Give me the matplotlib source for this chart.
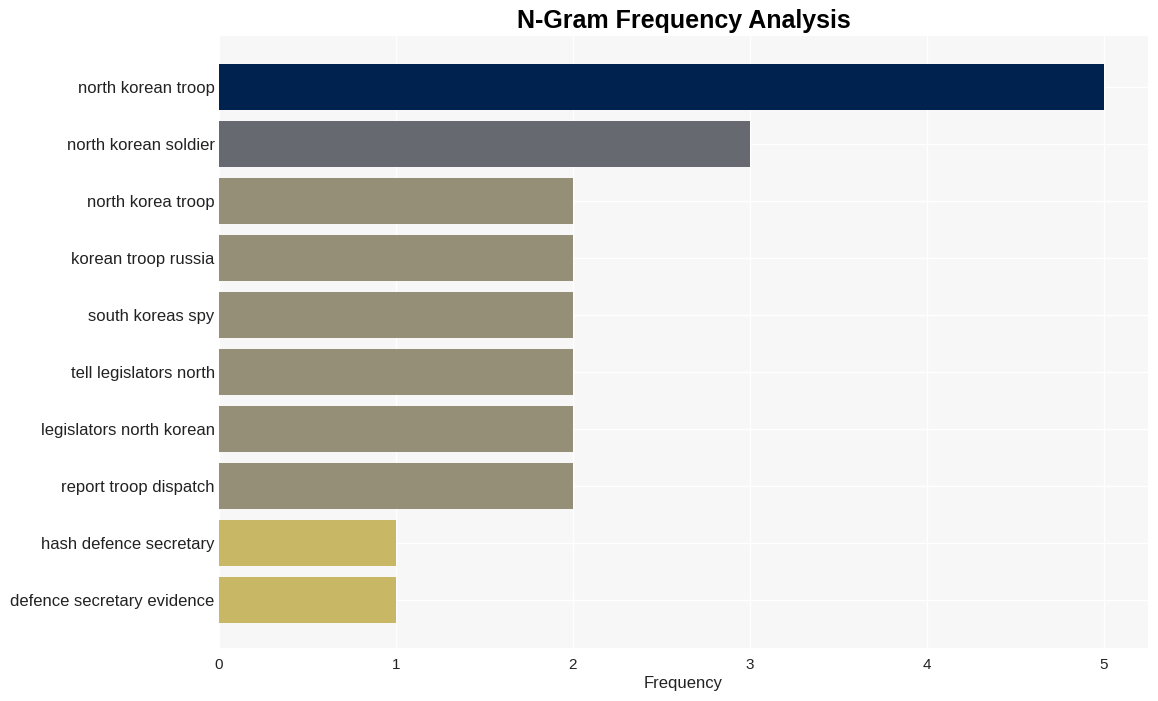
import matplotlib.pyplot as plt

# données
ngrams = ["north korean troop", "north korean soldier", "north korea troop",
          "korean troop russia", "south koreas spy", "tell legislators north",
          "legislators north korean", "report troop dispatch",
          "hash defence secretary", "defence secretary evidence"]
freq = [5, 3, 2, 2, 2, 2, 2, 2, 1, 1]
colors = ["#00224e", "#666970", "#958f78", "#958f78", "#958f78", "#958f78",
          "#958f78", "#958f78", "#c8b866", "#c8b866"]

plt.rcParams['font.family'] = ['Liberation Sans', 'DejaVu Sans']

fig = plt.figure(figsize=(11.58, 7.01), dpi=100)
ax = fig.add_axes([0.189, 0.0756, 0.8024, 0.873])
ax.set_facecolor("#f7f7f7")

ax.barh(range(len(ngrams)), freq, color=colors, height=0.8, zorder=2)
ax.set_yticks(range(len(ngrams)))
ax.set_yticklabels(ngrams, fontsize=12, color="#222222")
ax.set_ylim(9.84, -0.89)
ax.set_xlim(0, 5.25)
ax.set_xticks([0, 1, 2, 3, 4, 5])
ax.tick_params(axis='x', labelsize=11, colors="#222222", pad=7)
ax.tick_params(axis='y', pad=3)
ax.tick_params(length=0)
ax.grid(True, color="white", linewidth=1, zorder=1)
for s in ax.spines.values():
    s.set_visible(False)

ax.set_xlabel("Frequency", fontsize=12, color="#222222", labelpad=3)
ax.set_title("N-Gram Frequency Analysis", fontsize=18, fontweight="bold", pad=6)

fig.savefig("out.png", dpi=100)
